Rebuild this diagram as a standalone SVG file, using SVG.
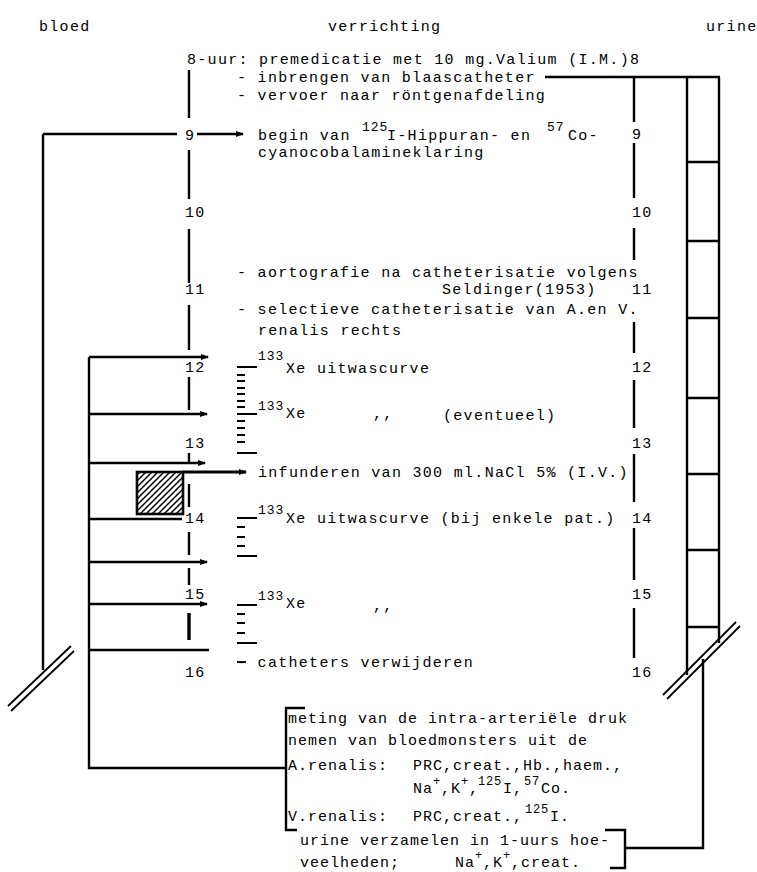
<svg xmlns="http://www.w3.org/2000/svg" width="757" height="872" viewBox="0 0 757 872">
<style>
.t{font-family:"Liberation Mono","DejaVu Sans Mono",monospace;font-size:15px;letter-spacing:1.3px;fill:#000}
.b{font-family:"Liberation Mono","DejaVu Sans Mono",monospace;font-size:15px;letter-spacing:1.0px;fill:#000}
.s{font-family:"Liberation Mono","DejaVu Sans Mono",monospace;font-size:13px;letter-spacing:0.9px;fill:#000}
.sb{font-family:"Liberation Mono","DejaVu Sans Mono",monospace;font-size:12px;letter-spacing:0.8px;fill:#000}
.ln{stroke:#000;stroke-width:2.4;fill:none}
.th{stroke:#000;stroke-width:1.8;fill:none}
.tk{stroke:#000;stroke-width:1.8}
.ar{marker-end:url(#ah)}
</style>
<defs>
<marker id="ah" viewBox="0 0 8 6" refX="7" refY="3" markerWidth="8" markerHeight="6" markerUnits="userSpaceOnUse" orient="auto">
<path d="M0,0 L8,3 L0,6 z" fill="#000"/>
</marker>
<pattern id="hatch" patternUnits="userSpaceOnUse" width="6" height="6">
<path d="M-1,1 l2,-2 M0,6 l6,-6 M5,7 l2,-2" stroke="#000" stroke-width="1.5"/>
</pattern>
</defs>
<rect width="757" height="872" fill="#fff"/>

<g id="headers">
<text class="t" x="39" y="31">bloed</text>
<text class="t" x="328" y="31">verrichting</text>
<text class="t" x="706" y="31">urine</text>
</g>

<g id="axis-labels">
<text class="t" x="187" y="64">8-uur: premedicatie met 10 mg.Valium (I.M.)8</text>
<text class="t" x="185" y="140">9</text>
<text class="t" x="185" y="217">10</text>
<text class="t" x="185" y="294">11</text>
<text class="t" x="185" y="372">12</text>
<text class="t" x="185" y="448">13</text>
<text class="t" x="185" y="523">14</text>
<text class="t" x="185" y="599">15</text>
<text class="t" x="185" y="677">16</text>
<text class="t" x="632" y="139">9</text>
<text class="t" x="632" y="217">10</text>
<text class="t" x="632" y="294">11</text>
<text class="t" x="632" y="372">12</text>
<text class="t" x="632" y="448">13</text>
<text class="t" x="632" y="523">14</text>
<text class="t" x="632" y="599">15</text>
<text class="t" x="632" y="677">16</text>
</g>

<g id="step-blaascatheter"><text class="t" x="237" y="82">- inbrengen van blaascatheter</text></g>
<g id="step-vervoer"><text class="t" x="237" y="100">- vervoer naar röntgenafdeling</text></g>
<g id="step-klaring">
<text class="t" x="258" y="140">begin van</text>
<text class="s" x="362" y="131">125</text>
<text class="t" x="387" y="140">I-Hippuran- en</text>
<text class="s" x="547" y="131">57</text>
<text class="t" x="568" y="140">Co-</text>
<text class="t" x="258" y="157">cyanocobalamineklaring</text>
</g>
<g id="step-aortografie">
<text class="t" x="237" y="277">- aortografie na catheterisatie volgens</text>
<text class="t" x="442" y="294">Seldinger(1953)</text>
</g>
<g id="step-selectief">
<text class="t" x="237" y="314">- selectieve catheterisatie van A.en V.</text>
<text class="t" x="258" y="335">renalis rechts</text>
</g>
<g id="step-xe1">
<text class="s" x="258" y="360">133</text>
<text class="t" x="286" y="373">Xe uitwascurve</text>
</g>
<g id="step-xe2">
<text class="s" x="258" y="410">133</text>
<text class="t" x="286" y="418">Xe</text>
<text class="t" x="373" y="418">,,</text>
<text class="t" x="443" y="420">(eventueel)</text>
</g>
<g id="step-infunderen"><text class="t" x="258" y="477">infunderen van 300 ml.NaCl 5% (I.V.)</text></g>
<g id="step-xe3">
<text class="s" x="258" y="514">133</text>
<text class="t" x="286" y="523">Xe uitwascurve (bij enkele pat.)</text>
</g>
<g id="step-xe4">
<text class="s" x="258" y="600">133</text>
<text class="t" x="286" y="608">Xe</text>
<text class="t" x="373" y="610">,,</text>
</g>
<g id="step-verwijderen"><text class="t" x="237" y="667">- catheters verwijderen</text></g>

<g id="box-bloed">
<text class="b" x="288" y="723">meting van de intra-arteriële druk</text>
<text class="b" x="288" y="745">nemen van bloedmonsters uit de</text>
<text class="b" x="288" y="770">A.renalis:</text>
<text class="b" x="413" y="770">PRC,creat.,Hb.,haem.,</text>
<text class="b" x="413" y="793">Na</text>
<text class="sb" x="433" y="785">+</text>
<text class="b" x="441" y="793">,K</text>
<text class="sb" x="461" y="785">+</text>
<text class="b" x="469" y="793">,</text>
<text class="sb" x="478" y="785">125</text>
<text class="b" x="503" y="793">I,</text>
<text class="sb" x="524" y="785">57</text>
<text class="b" x="541" y="793">Co.</text>
<text class="b" x="288" y="821">V.renalis:</text>
<text class="b" x="413" y="821">PRC,creat.,</text>
<text class="sb" x="525" y="813">125</text>
<text class="b" x="550" y="821">I.</text>
<path class="ln" d="M305,708 H286 V830 H297"/>
</g>

<g id="box-urine">
<text class="b" x="300" y="845">urine verzamelen in 1-uurs hoe-</text>
<text class="b" x="300" y="867">veelheden;</text>
<text class="b" x="455" y="867">Na</text>
<text class="sb" x="475" y="859">+</text>
<text class="b" x="483" y="867">,K</text>
<text class="sb" x="503" y="859">+</text>
<text class="b" x="511" y="867">,creat.</text>
<path class="ln" d="M605,830 H625 V868 H610"/>
</g>

<g id="hatched-infusion">
<rect x="137" y="472" width="46" height="42" fill="url(#hatch)" stroke="#000" stroke-width="2.6"/>
</g>

<g id="urine-column">
<path class="ln" d="M687,77 V675 M719,77 V643"/>
<path class="ln" d="M687,162 H719 M687,241 H719 M687,318 H719 M687,398 H719 M687,474 H719 M687,550 H719 M687,627 H719"/>
</g>

<g id="xe-ticks">
<path class="tk" d="M237,367 H257 M237,414 H257 M237,453 H257 M237,375 H245 M237,381 H245 M237,388 H245 M237,394 H245 M237,401 H245 M237,407 H245 M237,421 H245 M237,428 H245 M237,435 H245 M237,442 H245"/>
<path class="tk" d="M237,518 H257 M237,556 H257 M237,527 H245 M237,537 H245 M237,546 H245"/>
<path class="tk" d="M237,605 H257 M237,643 H257 M237,614 H245 M237,623 H245 M237,633 H245"/>
<path class="tk" d="M237,662 H246"/>
</g>

<g id="connectors">
<path class="ln" d="M545,77 H720"/>
<path class="ln" d="M634,77 V122 M634,143 V198 M634,228 V260 M634,322 V353 M634,380 V428 M634,454 V502 M634,528 V580 M634,608 V658"/>
<path class="ln" d="M189,70 V118 M189,150 V199 M189,229 V283 M189,305 V350 M189,377 V410 M189,453 V463 M189,484 V507 M189,532 V555 M189,568 V585"/>
<path stroke="#000" stroke-width="3.4" d="M189,613 V640"/>
<path class="ln" d="M43,134 H177"/>
<path class="ln ar" d="M197,134 H243"/>
<path class="ln" d="M43,134 V670"/>
<path class="th" d="M8,706 L71,646 M11,711 L74,651"/>
<path class="ln" d="M89,357 V768 H286"/>
<path class="ln ar" d="M89,357 H208"/>
<path class="ln ar" d="M89,414 H207"/>
<path class="ln ar" d="M89,463 H205"/>
<path class="ln" d="M89,519 H182"/>
<path class="ln ar" d="M89,562 H207"/>
<path class="ln ar" d="M89,604 H207"/>
<path class="ln" d="M89,650 H209"/>
<path stroke="#000" stroke-width="2.8" fill="none" marker-end="url(#ah)" d="M183,472 H246"/>
<path class="th" d="M663,695 L736,622 M667,699 L740,626"/>
<path class="ln" d="M703,659 V848 H626"/>
</g>
</svg>
